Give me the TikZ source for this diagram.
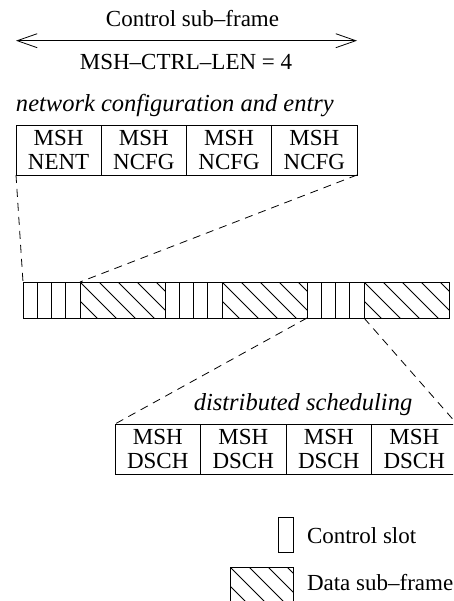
\documentclass[tikz,border=0pt]{standalone}
\usepackage{fontspec}
\setmainfont{Liberation Serif}
\usetikzlibrary{arrows.meta}
\begin{document}
\begin{tikzpicture}[x=1pt,y=-1pt,
  every node/.style={font=\fontsize{23}{24}\selectfont, inner sep=0pt, outer sep=0pt},
  label/.style={anchor=base},
  caption/.style={font=\fontsize{24.5}{26}\selectfont\itshape},
  msgbox/.style={draw, line width=0.9pt, minimum width=85.25pt, minimum height=50pt,
    align=center, anchor=north west},
  slotbox/.style={draw, line width=0.9pt, minimum width=14.25pt, minimum height=36pt,
    anchor=north west},
  hatched/.style={draw, line width=0.9pt, minimum height=36pt, anchor=north west,
    path picture={\foreach \k in {-4,...,8}{
      \draw[line width=0.8pt] ([xshift=\k*19pt]path picture bounding box.north west)
        -- ++(120,120);}}},
  zoomline/.style={line width=0.8pt, dash pattern=on 8pt off 6pt}]
\clip (0,0) rectangle (453,601);

% control sub-frame span
\coordinate (cl) at (16,40.7);
\coordinate (cr) at (357,40.7);
\draw[line width=0.8pt, {Straight Barb[length=20pt,width=14pt]}-{Straight Barb[length=20pt,width=14pt]}] (cl) -- (cr);
\node[label] (title) at (192.5,26.7) {Control sub–frame};
\node[label] (ctrllen) at (186,70) {MSH–CTRL–LEN = 4};

% network configuration and entry messages
\node[caption, anchor=base west] (nce) at (16,111.7) {network configuration and entry};
\node[msgbox] (nent) at (16,125) {MSH\\NENT};
\node[msgbox] (ncfg1) at (nent.north east) {MSH\\NCFG};
\node[msgbox] (ncfg2) at (ncfg1.north east) {MSH\\NCFG};
\node[msgbox] (ncfg3) at (ncfg2.north east) {MSH\\NCFG};

% frame: three groups of four control slots and a data sub-frame
\node[slotbox] (s1) at (23,282) {};
\node[slotbox] (s2) at (s1.north east) {};
\node[slotbox] (s3) at (s2.north east) {};
\node[slotbox] (s4) at (s3.north east) {};
\node[hatched, minimum width=85pt] (d1) at (s4.north east) {};
\node[slotbox] (s5) at (d1.north east) {};
\node[slotbox] (s6) at (s5.north east) {};
\node[slotbox] (s7) at (s6.north east) {};
\node[slotbox] (s8) at (s7.north east) {};
\node[hatched, minimum width=85pt] (d2) at (s8.north east) {};
\node[slotbox] (s9) at (d2.north east) {};
\node[slotbox] (s10) at (s9.north east) {};
\node[slotbox] (s11) at (s10.north east) {};
\node[slotbox] (s12) at (s11.north east) {};
\node[hatched, minimum width=85pt] (d3) at (s12.north east) {};

% distributed scheduling messages
\node[caption, anchor=base] (dsched) at (303,410) {distributed scheduling};
\node[msgbox, minimum width=85.5pt] (dsch1) at (115,424) {MSH\\DSCH};
\node[msgbox, minimum width=85.5pt] (dsch2) at (dsch1.north east) {MSH\\DSCH};
\node[msgbox, minimum width=85.5pt] (dsch3) at (dsch2.north east) {MSH\\DSCH};
\node[msgbox, minimum width=85.5pt] (dsch4) at (dsch3.north east) {MSH\\DSCH};

% expansion lines
\draw[zoomline] (nent.south west) -- (s1.north west);
\draw[zoomline] (ncfg3.south east) -- (d1.north west);
\draw[zoomline] (d2.south east) -- (dsch1.north west);
\draw[zoomline] (s12.south east) -- (dsch4.north east);

% legend
\node[slotbox, minimum width=15pt, minimum height=35pt] (keyslot) at (278,517) {};
\node[anchor=base west] (keyslottext) at (307,543) {Control slot};
\node[hatched, minimum width=63pt, minimum height=45pt] (keydata) at (230,567) {};
\node[anchor=base west] (keydatatext) at (307,590) {Data sub–frame};
\end{tikzpicture}
\end{document}
